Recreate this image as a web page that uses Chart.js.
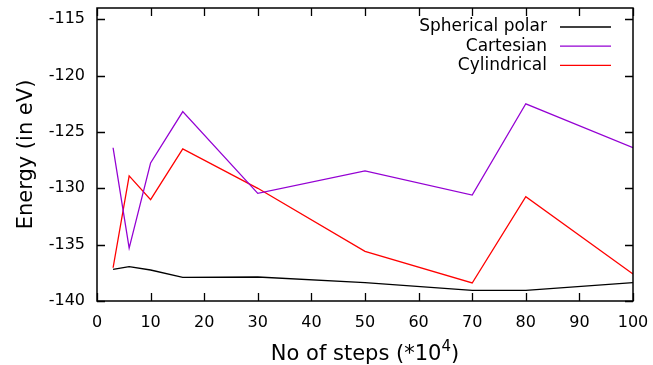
<!DOCTYPE html>
<html>
<head>
<meta charset="utf-8">
<script src="https://cdn.jsdelivr.net/npm/chart.js@4.4.1/dist/chart.umd.min.js"></script>
<style>
  html, body { margin: 0; padding: 0; background: #fff; }
  #wrap { width: 653px; height: 365px; }
</style>
</head>
<body>
<div id="wrap"><canvas id="energyChart"></canvas></div>
<script>
// steps (*10^4)
var steps = [3, 6, 10, 16, 30, 50, 70, 80, 100];
var sphericalPolar = [-137.2, -136.95, -137.25, -137.9, -137.87, -138.37, -139.05, -139.05, -138.37];
var cartesian = [-126.4, -135.3, -127.75, -123.2, -130.45, -128.45, -130.6, -122.5, -126.4];
var cylindrical = [-137.05, -128.9, -131.0, -126.5, -130.0, -135.6, -138.4, -130.75, -137.6];

var xTicks = [0, 10, 20, 30, 40, 50, 60, 70, 80, 90, 100];
var yTicks = [-140, -135, -130, -125, -120, -115];

function toPoints(vals) {
    return vals.map(function (v, i) { return { x: steps[i], y: v }; });
}

// gnuplot like frame, inward ticks on all four sides, the key and the x title
var framePlugin = {
    id: 'frame',
    afterDatasetsDraw: function (chart) {
        var ctx = chart.ctx;
        var a = chart.chartArea;
        var xs = chart.scales.x, ys = chart.scales.y;
        var tl = 8;
        ctx.save();
        ctx.strokeStyle = '#000';
        ctx.lineWidth = 1.3;
        ctx.beginPath();
        xTicks.forEach(function (t) {
            var px = Math.round(xs.getPixelForValue(t)) + 0.5;
            ctx.moveTo(px, a.bottom); ctx.lineTo(px, a.bottom - tl);
            ctx.moveTo(px, a.top); ctx.lineTo(px, a.top + tl);
        });
        yTicks.forEach(function (t) {
            var py = Math.round(ys.getPixelForValue(t)) + 0.5;
            ctx.moveTo(a.left, py); ctx.lineTo(a.left + tl, py);
            ctx.moveTo(a.right, py); ctx.lineTo(a.right - tl, py);
        });
        ctx.stroke();
        ctx.lineWidth = 1.5;
        ctx.strokeRect(a.left, a.top, a.right - a.left, a.bottom - a.top);

        // key
        ctx.font = '17px "DejaVu Sans"';
        ctx.textAlign = 'right';
        ctx.textBaseline = 'middle';
        chart.data.datasets.forEach(function (ds, i) {
            var y = a.top + 19 + i * 19.2;
            ctx.fillStyle = '#000';
            ctx.fillText(ds.label, a.right - 86, y);
            ctx.strokeStyle = ds.borderColor;
            ctx.lineWidth = 1.3;
            ctx.beginPath();
            ctx.moveTo(a.right - 73, y);
            ctx.lineTo(a.right - 22, y);
            ctx.stroke();
        });

        // x title with a raised exponent
        var main = 'No of steps (*10', sup = '4', tail = ')';
        var bigFont = '21px "DejaVu Sans"', supFont = '15px "DejaVu Sans"';
        ctx.textAlign = 'left';
        ctx.textBaseline = 'alphabetic';
        ctx.font = bigFont;
        var w1 = ctx.measureText(main).width, w3 = ctx.measureText(tail).width;
        ctx.font = supFont;
        var w2 = ctx.measureText(sup).width;
        var x0 = (a.left + a.right) / 2 - (w1 + w2 + w3) / 2;
        var base = 360;
        ctx.fillStyle = '#000';
        ctx.font = bigFont;
        ctx.fillText(main, x0, base);
        ctx.font = supFont;
        ctx.fillText(sup, x0 + w1, base - 9);
        ctx.font = bigFont;
        ctx.fillText(tail, x0 + w1 + w2, base);
        ctx.restore();
    }
};

new Chart(document.getElementById('energyChart'), {
    type: 'line',
    data: {
        datasets: [{
            label: 'Spherical polar',
            data: toPoints(sphericalPolar),
            borderColor: '#000000',
            borderWidth: 1.3,
            pointRadius: 0,
            tension: 0
        }, {
            label: 'Cartesian',
            data: toPoints(cartesian),
            borderColor: '#9400d3',
            borderWidth: 1.3,
            pointRadius: 0,
            tension: 0
        }, {
            label: 'Cylindrical',
            data: toPoints(cylindrical),
            borderColor: '#ff0000',
            borderWidth: 1.3,
            pointRadius: 0,
            tension: 0
        }]
    },
    options: {
        responsive: true,
        maintainAspectRatio: false,
        animation: false,
        layout: { padding: { left: 0, right: 20, top: 8, bottom: 0 } },
        plugins: {
            legend: { display: false },
            tooltip: { enabled: false }
        },
        scales: {
            x: {
                type: 'linear',
                min: 0,
                max: 100,
                afterBuildTicks: function (scale) {
                    scale.ticks = xTicks.map(function (v) { return { value: v }; });
                },
                afterFit: function (scale) {
                    scale.height = 64;
                    scale.paddingLeft = 0;
                    scale.paddingRight = 0;
                },
                grid: { display: false, drawTicks: false },
                border: { display: false },
                ticks: {
                    color: '#000',
                    padding: 12,
                    maxRotation: 0,
                    autoSkip: false,
                    font: { family: 'DejaVu Sans', size: 16 }
                }
            },
            y: {
                type: 'linear',
                min: -140,
                max: -114,
                afterBuildTicks: function (scale) {
                    scale.ticks = yTicks.map(function (v) { return { value: v }; });
                },
                afterFit: function (scale) {
                    scale.width = 97;
                    scale.paddingTop = 0;
                    scale.paddingBottom = 0;
                },
                grid: { display: false, drawTicks: false },
                border: { display: false },
                ticks: {
                    color: '#000',
                    padding: 12,
                    font: { family: 'DejaVu Sans', size: 16 }
                },
                title: {
                    display: true,
                    text: 'Energy (in eV)',
                    color: '#000',
                    padding: { top: 14, bottom: 0 },
                    font: { family: 'DejaVu Sans', size: 21 }
                }
            }
        }
    },
    plugins: [framePlugin]
});
</script>
</body>
</html>
